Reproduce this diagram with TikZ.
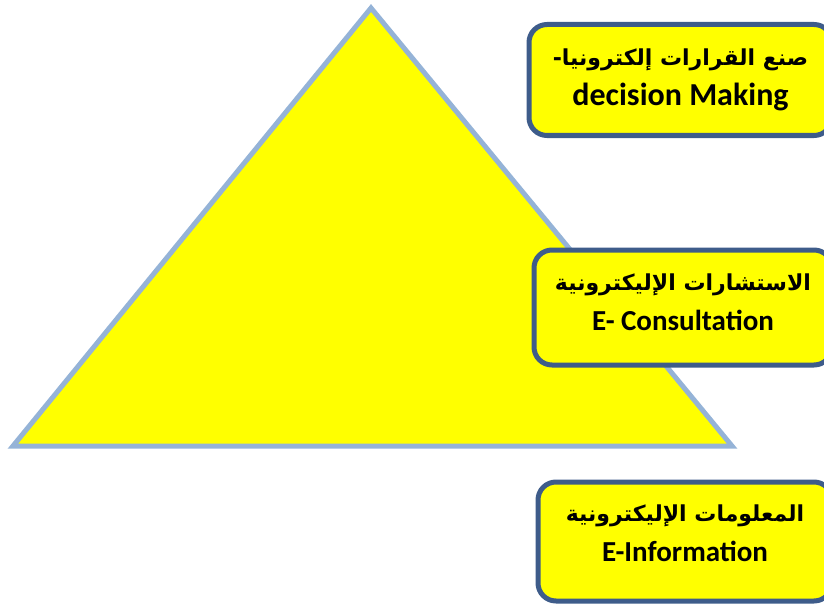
\documentclass[tikz,border=0pt]{standalone}
\usepackage{fontspec}
\setmainfont{Carlito}
\newfontfamily\arabicfont[Script=Arabic]{DejaVu Sans}
\TeXXeTstate=1
\usepackage{tikz}
\definecolor{edgeblue}{RGB}{149,179,215}
\definecolor{boxblue}{RGB}{62,92,138}
\definecolor{fillyellow}{RGB}{255,255,0}
\newcommand{\artext}[1]{{\arabicfont\fontsize{22}{40}\selectfont\beginR #1\endR}}

\begin{document}
\begin{tikzpicture}[x=1pt, y=-1pt,
    infobox/.style={
        rectangle, rounded corners=18pt, draw=boxblue, line width=5pt,
        fill=fillyellow, align=center, inner sep=0pt,
        font=\bfseries\fontsize{29}{40}\selectfont
    },
    pyramid/.style={draw=edgeblue, line width=5pt, fill=fillyellow,
                    line join=miter}
]
\clip (0,0) rectangle (824,607);
% pyramid
\draw[pyramid] (371,8) -- (732,446) -- (13,446) -- cycle;
% levels
\node[infobox, minimum width=303pt, minimum height=111pt] (decision) at (680.5,80)
    {\artext{صنع القرارات إلكترونيا-}\\{\fontsize{32}{40}\selectfont decision Making}};
\node[infobox, minimum width=298pt, minimum height=115pt,
      text depth=10pt] (consult) at (683,307.5)
    {\artext{الاستشارات الإليكترونية}\\E- Consultation};
\node[infobox, minimum width=294pt, minimum height=119pt,
      text depth=16pt] (inform) at (685,541.5)
    {\artext{المعلومات الإليكترونية}\\E-Information};
\end{tikzpicture}
\end{document}
